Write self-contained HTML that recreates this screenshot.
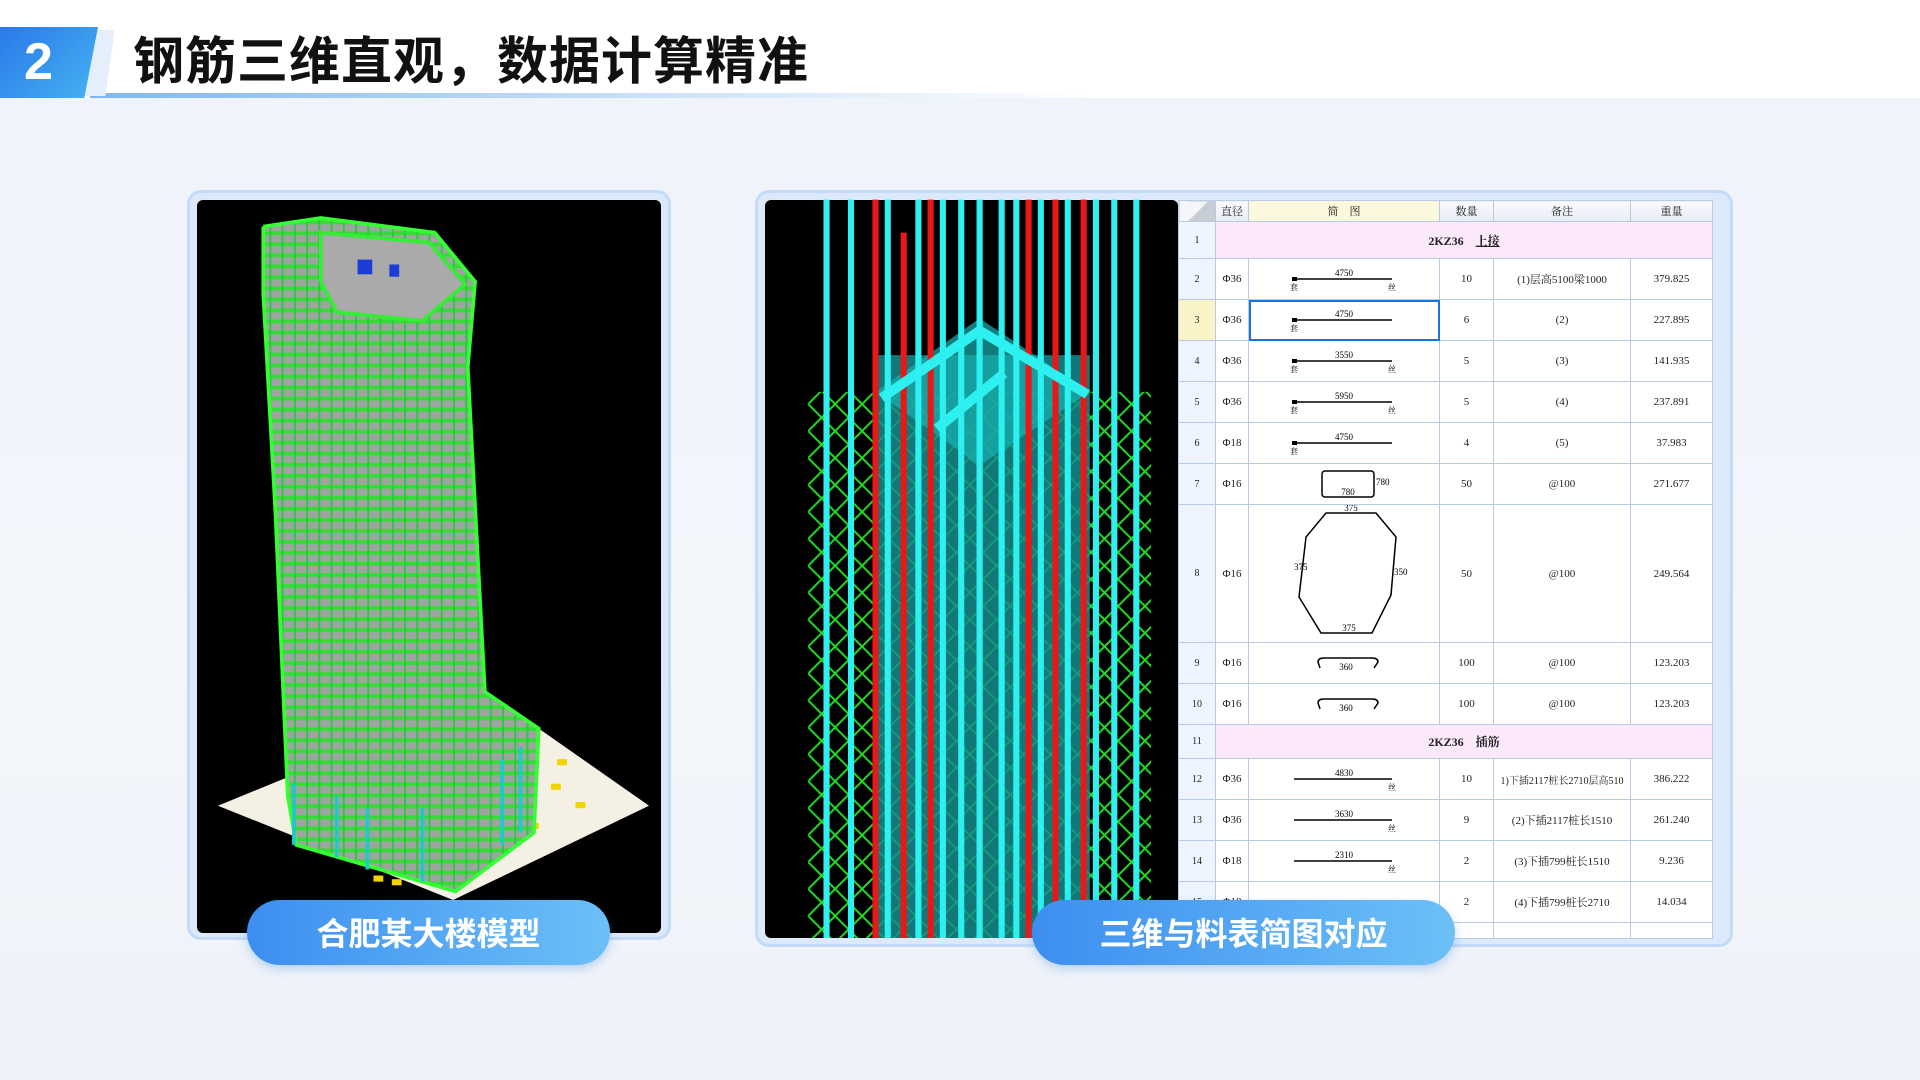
<!DOCTYPE html>
<html><head><meta charset="utf-8"><style>
*{margin:0;padding:0;box-sizing:border-box}
body{width:1920px;height:1080px;overflow:hidden;background:linear-gradient(180deg,#eef3fa 0%,#f3f6fb 60%,#eef2f8 100%);font-family:"Liberation Sans","Noto Sans CJK SC",sans-serif;position:relative}
.hdr{position:absolute;left:0;top:0;width:1920px;height:98px;background:#fff}
.hline{position:absolute;left:90px;top:93px;width:1000px;height:5px;background:linear-gradient(90deg,#7fb8ee,#cfe4f8 60%,rgba(255,255,255,0))}
.num{position:absolute;left:0;top:27px;width:98px;height:71px;background:linear-gradient(135deg,#2a78e8,#45b3f2);clip-path:polygon(0 0,100% 0,86% 100%,0 100%);color:#fff;font-weight:bold;font-size:52px;line-height:71px;padding-left:24px}
.num2{position:absolute;left:88px;top:30px;width:22px;height:66px;background:#e4effb;transform:skewX(-8deg)}
.title{position:absolute;left:133px;top:24px;font-size:51px;font-weight:bold;color:#111;font-family:"Noto Sans CJK SC",sans-serif;letter-spacing:1px;line-height:66px}
.frame{position:absolute;border-radius:14px;background:#dbe9fb;border:3px solid #c3dbf7}
.black{position:absolute;background:#000;border-radius:6px;overflow:hidden}
.pill{position:absolute;height:65px;border-radius:33px;background:linear-gradient(90deg,#3d8ef0,#6cc0f6);color:#fff;font-size:32px;font-weight:bold;text-align:center;line-height:65px;font-family:"Noto Sans CJK SC",sans-serif;box-shadow:0 4px 10px rgba(60,130,220,.3)}
table{position:absolute;left:1178px;top:200px;width:534px;border-collapse:collapse;table-layout:fixed;font-family:"Liberation Serif","Noto Serif CJK SC",serif;font-size:11px;color:#222;background:#fff}
td{border:1px solid #b9cbe4;text-align:center;vertical-align:middle;overflow:hidden;white-space:nowrap;padding:0}
td.n{background:#eef5fe;font-size:10px}
tr.h td{background:linear-gradient(#fafbfe,#e6ebf5);height:21px;font-size:11px}
tr.s td.m{background:#fbe8fb;font-weight:bold;font-size:12px}
</style></head><body>
<div class="hdr"></div><div class="hline"></div>
<div class="num2"></div><div class="num">2</div>
<div class="title">钢筋三维直观，数据计算精准</div>

<div class="frame" style="left:187px;top:190px;width:484px;height:750px"></div>
<div class="black" style="left:197px;top:200px;width:464px;height:733px"></div>
<div class="frame" style="left:755px;top:190px;width:978px;height:757px"></div>
<div class="black" style="left:765px;top:200px;width:413px;height:738px"></div>

<svg style="position:absolute;left:0;top:0" width="1920" height="1080">
<defs>
<pattern id="gs" width="10" height="9" patternUnits="userSpaceOnUse"><rect width="10" height="9" fill="#9ea4a0"/><rect y="0" width="10" height="3" fill="#33dd33"/><rect x="0" width="1.5" height="9" fill="#2cc640"/></pattern>
<pattern id="diag" width="22" height="22" patternUnits="userSpaceOnUse"><path d="M0 22L22 0M0 0L22 22" stroke="#22dd22" stroke-width="1.6"/></pattern>
</defs>
<g transform="scale(1.2245)">
<polygon points="178,658 400,567 530,658 370,735" fill="#f4f1e4"/>
<g fill="#f2d400"><rect x="450" y="640" width="8" height="5"/><rect x="470" y="655" width="8" height="5"/><rect x="432" y="672" width="8" height="5"/><rect x="455" y="620" width="8" height="5"/><rect x="320" y="718" width="8" height="5"/><rect x="340" y="710" width="8" height="5"/><rect x="305" y="715" width="8" height="5"/></g>
<polygon points="215,185 262,178 355,190 388,230 382,300 396,565 440,595 436,680 372,728 242,690 235,650 225,420 215,240" fill="url(#gs)"/>
<polygon points="262,190 350,198 380,232 345,262 275,255 262,230" fill="#aaaaaa" stroke="#33ee33" stroke-width="3"/>
<rect x="292" y="212" width="12" height="12" fill="#1c3cd8"/>
<rect x="318" y="216" width="8" height="10" fill="#1c3cd8"/>
<polyline points="215,185 262,178 355,190 388,230 382,300 396,565 440,595 436,680 372,728 242,690 235,650 225,420 215,240 215,185" fill="none" stroke="#33ff33" stroke-width="3"/>
<g stroke="#20c8c8" stroke-width="3"><line x1="240" y1="640" x2="240" y2="690"/><line x1="275" y1="650" x2="275" y2="700"/><line x1="300" y1="660" x2="300" y2="710"/><line x1="345" y1="660" x2="345" y2="720"/><line x1="410" y1="620" x2="410" y2="690"/><line x1="425" y1="610" x2="425" y2="680"/></g>
<rect x="660" y="320" width="280" height="446" fill="url(#diag)"/>
<rect x="715" y="290" width="175" height="476" fill="#148c8c" opacity=".85"/>
<polygon points="715,320 800,260 890,320 800,380" fill="#18b0b0" opacity=".7"/>
<g stroke="#2ef0f0" stroke-width="5">
<line x1="675" y1="163" x2="675" y2="766"/><line x1="695" y1="163" x2="695" y2="766"/><line x1="725" y1="163" x2="725" y2="766"/><line x1="750" y1="163" x2="750" y2="766"/><line x1="770" y1="163" x2="770" y2="766"/><line x1="785" y1="163" x2="785" y2="766"/><line x1="800" y1="163" x2="800" y2="766"/><line x1="818" y1="163" x2="818" y2="766"/><line x1="830" y1="163" x2="830" y2="766"/><line x1="850" y1="163" x2="850" y2="766"/><line x1="872" y1="163" x2="872" y2="766"/><line x1="895" y1="163" x2="895" y2="766"/><line x1="910" y1="163" x2="910" y2="766"/><line x1="928" y1="163" x2="928" y2="766"/></g>
<g stroke="#e81818" stroke-width="5"><line x1="715" y1="163" x2="715" y2="766"/><line x1="738" y1="190" x2="738" y2="766"/><line x1="760" y1="163" x2="760" y2="766"/><line x1="840" y1="163" x2="840" y2="766"/><line x1="862" y1="163" x2="862" y2="766"/><line x1="885" y1="163" x2="885" y2="766"/></g>
<g stroke="#2ef0f0" stroke-width="8"><line x1="720" y1="325" x2="800" y2="270"/><line x1="800" y1="270" x2="888" y2="322"/><line x1="765" y1="350" x2="820" y2="305"/></g>
</g>
</svg>

<table>
<colgroup><col style="width:37px"><col style="width:33px"><col style="width:191px"><col style="width:54px"><col style="width:137px"><col style="width:82px"></colgroup>
<tr class="h"><td style="background:linear-gradient(135deg,#f4f6fa 50%,#c8ccd4 50%)"></td><td>直径</td><td style="background:#fbf8dc">简　图</td><td>数量</td><td>备注</td><td>重量</td></tr>
<tr class="s" style="height:37px"><td class="n">1</td><td class="m" colspan="5">2KZ36　<u>上接</u></td></tr>
<tr style="height:41px"><td class="n">2</td><td>Φ36</td><td><svg width="140" height="30"><text x="70" y="13" font-size="9" text-anchor="middle">4750</text><line x1="20" y1="16" x2="118" y2="16" stroke="#000" stroke-width="1.5"/><rect x="18" y="14" width="5" height="4"/><text x="16" y="27" font-size="8">套</text><text x="114" y="27" font-size="8">丝</text></svg></td><td>10</td><td>(1)层高5100梁1000</td><td>379.825</td></tr>
<tr style="height:41px"><td class="n" style="background:#fbf3c8">3</td><td>Φ36</td><td style="outline:2px solid #1876d8;outline-offset:-2px"><svg width="140" height="30"><text x="70" y="13" font-size="9" text-anchor="middle">4750</text><line x1="20" y1="16" x2="118" y2="16" stroke="#000" stroke-width="1.5"/><rect x="18" y="14" width="5" height="4"/><text x="16" y="27" font-size="8">套</text></svg></td><td>6</td><td>(2)</td><td>227.895</td></tr>
<tr style="height:41px"><td class="n">4</td><td>Φ36</td><td><svg width="140" height="30"><text x="70" y="13" font-size="9" text-anchor="middle">3550</text><line x1="20" y1="16" x2="118" y2="16" stroke="#000" stroke-width="1.5"/><rect x="18" y="14" width="5" height="4"/><text x="16" y="27" font-size="8">套</text><text x="114" y="27" font-size="8">丝</text></svg></td><td>5</td><td>(3)</td><td>141.935</td></tr>
<tr style="height:41px"><td class="n">5</td><td>Φ36</td><td><svg width="140" height="30"><text x="70" y="13" font-size="9" text-anchor="middle">5950</text><line x1="20" y1="16" x2="118" y2="16" stroke="#000" stroke-width="1.5"/><rect x="18" y="14" width="5" height="4"/><text x="16" y="27" font-size="8">套</text><text x="114" y="27" font-size="8">丝</text></svg></td><td>5</td><td>(4)</td><td>237.891</td></tr>
<tr style="height:41px"><td class="n">6</td><td>Φ18</td><td><svg width="140" height="30"><text x="70" y="13" font-size="9" text-anchor="middle">4750</text><line x1="20" y1="16" x2="118" y2="16" stroke="#000" stroke-width="1.5"/><rect x="18" y="14" width="5" height="4"/><text x="16" y="27" font-size="8">套</text></svg></td><td>4</td><td>(5)</td><td>37.983</td></tr>
<tr style="height:41px"><td class="n">7</td><td>Φ16</td><td><svg width="140" height="32"><rect x="48" y="4" width="52" height="26" rx="3" fill="none" stroke="#000" stroke-width="1.5"/><text x="74" y="28" font-size="9" text-anchor="middle">780</text><text x="102" y="18" font-size="9">780</text></svg></td><td>50</td><td>@100</td><td>271.677</td></tr>
<tr style="height:138px"><td class="n">8</td><td>Φ16</td><td><svg width="160" height="134"><polygon points="62,8 112,8 132,32 127,90 108,128 57,128 35,92 42,32" fill="none" stroke="#000" stroke-width="1.5"/><text x="87" y="6" font-size="9" text-anchor="middle">375</text><text x="85" y="126" font-size="9" text-anchor="middle">375</text><text x="30" y="65" font-size="9">375</text><text x="130" y="70" font-size="9">350</text></svg></td><td>50</td><td>@100</td><td>249.564</td></tr>
<tr style="height:41px"><td class="n">9</td><td>Φ16</td><td><svg width="140" height="24"><path d="M46 18 L44 12 Q44 8 50 8 L98 8 Q104 8 104 12 L100 18" fill="none" stroke="#000" stroke-width="1.5"/><text x="72" y="20" font-size="9" text-anchor="middle">360</text></svg></td><td>100</td><td>@100</td><td>123.203</td></tr>
<tr style="height:41px"><td class="n">10</td><td>Φ16</td><td><svg width="140" height="24"><path d="M46 18 L44 12 Q44 8 50 8 L98 8 Q104 8 104 12 L100 18" fill="none" stroke="#000" stroke-width="1.5"/><text x="72" y="20" font-size="9" text-anchor="middle">360</text></svg></td><td>100</td><td>@100</td><td>123.203</td></tr>
<tr class="s" style="height:34px"><td class="n">11</td><td class="m" colspan="5">2KZ36　插筋</td></tr>
<tr style="height:41px"><td class="n">12</td><td>Φ36</td><td><svg width="140" height="30"><text x="70" y="13" font-size="9" text-anchor="middle">4830</text><line x1="20" y1="16" x2="118" y2="16" stroke="#000" stroke-width="1.5"/><text x="114" y="27" font-size="8">丝</text></svg></td><td>10</td><td style="font-size:10px">1)下插2117桩长2710层高510</td><td>386.222</td></tr>
<tr style="height:41px"><td class="n">13</td><td>Φ36</td><td><svg width="140" height="30"><text x="70" y="13" font-size="9" text-anchor="middle">3630</text><line x1="20" y1="16" x2="118" y2="16" stroke="#000" stroke-width="1.5"/><text x="114" y="27" font-size="8">丝</text></svg></td><td>9</td><td>(2)下插2117桩长1510</td><td>261.240</td></tr>
<tr style="height:41px"><td class="n">14</td><td>Φ18</td><td><svg width="140" height="30"><text x="70" y="13" font-size="9" text-anchor="middle">2310</text><line x1="20" y1="16" x2="118" y2="16" stroke="#000" stroke-width="1.5"/><text x="114" y="27" font-size="8">丝</text></svg></td><td>2</td><td>(3)下插799桩长1510</td><td>9.236</td></tr>
<tr style="height:41px"><td class="n">15</td><td>Φ18</td><td></td><td>2</td><td>(4)下插799桩长2710</td><td>14.034</td></tr>
<tr style="height:16px"><td class="n"></td><td></td><td></td><td></td><td></td><td></td></tr>
</table>

<div class="pill" style="left:247px;top:900px;width:363px">合肥某大楼模型</div>
<div class="pill" style="left:1032px;top:900px;width:423px">三维与料表简图对应</div>
</body></html>
